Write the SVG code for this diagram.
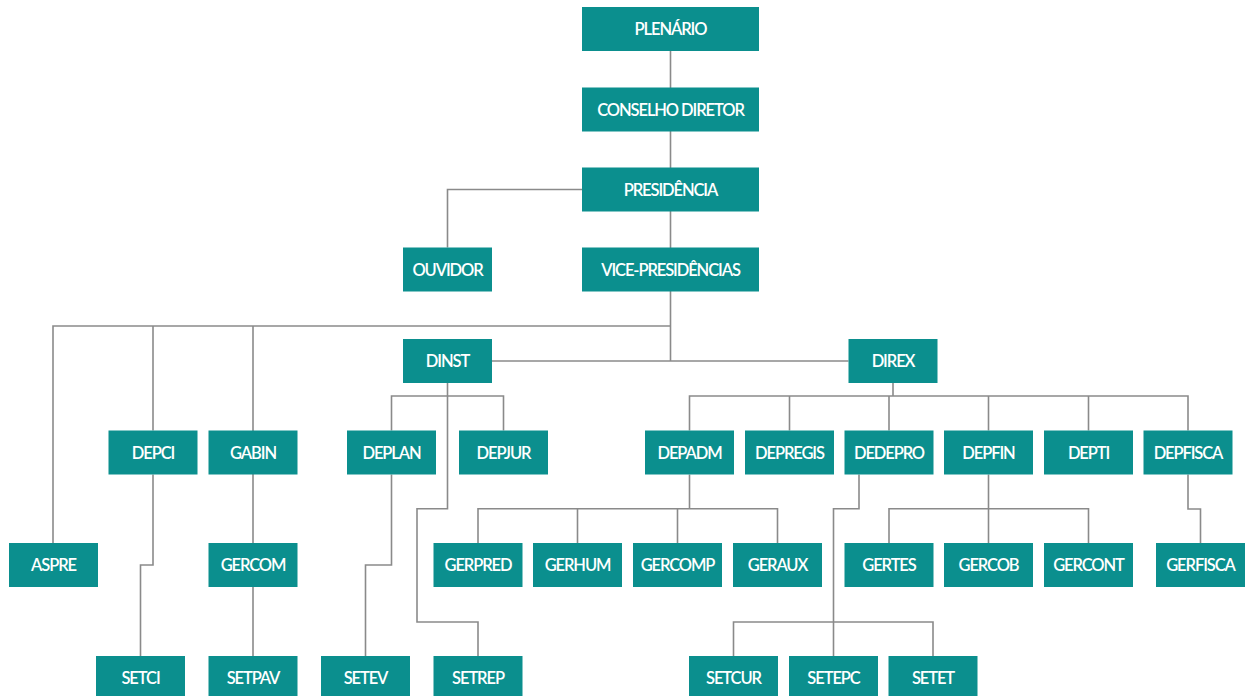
<svg xmlns="http://www.w3.org/2000/svg" width="1251" height="696" viewBox="0 0 1251 696">
<style>
.n rect{fill:#0b8f8e;}
.n text{fill:#ffffff;font-family:Lato,"Open Sans","Liberation Sans",sans-serif;font-size:16.5px;font-weight:600;letter-spacing:-1.1px;text-anchor:middle;}
.c path{fill:none;stroke:#8a8a8a;stroke-width:1.6;}
</style>
<rect width="1251" height="696" fill="#ffffff"/>
<g class="c" id="connectors">
<path d="M670.5 51 V361"/>
<path d="M582 189.5 H447.5 V247.5"/>
<path d="M53 543 V326 H670.5"/>
<path d="M153 326 V430.5"/>
<path d="M253 326 V656"/>
<path d="M492 361 H848.5"/>
<path d="M153 474.5 V565 H140.5 V656"/>
<path d="M391.5 430.5 V396 H503.5 V430.5"/>
<path d="M447.5 383 V508.7 H417 V622 H478 V656"/>
<path d="M391.5 474.5 V565 H365.5 V656"/>
<path d="M893 383 V396"/>
<path d="M689.5 430.5 V396 H1188 V430.5"/>
<path d="M789.5 396 V430.5"/>
<path d="M889 396 V430.5"/>
<path d="M988.5 396 V430.5"/>
<path d="M1088.5 396 V430.5"/>
<path d="M689.5 474.5 V508.7"/>
<path d="M478 543 V508.7 H777.5 V543"/>
<path d="M577.5 508.7 V543"/>
<path d="M677.5 508.7 V543"/>
<path d="M859 474.5 V508.7 H833.5 V656"/>
<path d="M733.5 656 V622 H933 V656"/>
<path d="M988.5 474.5 V543"/>
<path d="M889 543 V508.7 H1088.5 V543"/>
<path d="M1188 474.5 V509 H1200.5 V543"/>
</g>
<g class="n" id="plenario"><rect x="582" y="7" width="177" height="44"/><text x="670.5" y="35">PLENÁRIO</text></g>
<g class="n" id="conselho"><rect x="582" y="87.5" width="177" height="44"/><text x="670.5" y="115.7">CONSELHO DIRETOR</text></g>
<g class="n" id="presidencia"><rect x="582" y="167.5" width="177" height="44"/><text x="670.5" y="195.7">PRESIDÊNCIA</text></g>
<g class="n" id="vice"><rect x="582" y="247.5" width="177" height="44"/><text x="670.5" y="275.7">VICE-PRESIDÊNCIAS</text></g>
<g class="n" id="ouvidor"><rect x="403" y="247.5" width="89" height="44"/><text x="447.5" y="275.7">OUVIDOR</text></g>
<g class="n" id="dinst"><rect x="403" y="339" width="89" height="44"/><text x="447.5" y="367">DINST</text></g>
<g class="n" id="direx"><rect x="848.5" y="339" width="89" height="44"/><text x="893" y="367">DIREX</text></g>
<g class="n" id="depci"><rect x="108.5" y="430.5" width="89" height="44"/><text x="153" y="458.7">DEPCI</text></g>
<g class="n" id="gabin"><rect x="208.5" y="430.5" width="89" height="44"/><text x="253" y="458.7">GABIN</text></g>
<g class="n" id="deplan"><rect x="347" y="430.5" width="89" height="44"/><text x="391.5" y="458.7">DEPLAN</text></g>
<g class="n" id="depjur"><rect x="459" y="430.5" width="89" height="44"/><text x="503.5" y="458.7">DEPJUR</text></g>
<g class="n" id="depadm"><rect x="645" y="430.5" width="89" height="44"/><text x="689.5" y="458.7">DEPADM</text></g>
<g class="n" id="depregis"><rect x="745" y="430.5" width="89" height="44"/><text x="789.5" y="458.7">DEPREGIS</text></g>
<g class="n" id="dedepro"><rect x="844.5" y="430.5" width="89" height="44"/><text x="889" y="458.7">DEDEPRO</text></g>
<g class="n" id="depfin"><rect x="944" y="430.5" width="89" height="44"/><text x="988.5" y="458.7">DEPFIN</text></g>
<g class="n" id="depti"><rect x="1044" y="430.5" width="89" height="44"/><text x="1088.5" y="458.7">DEPTI</text></g>
<g class="n" id="depfisca"><rect x="1143.5" y="430.5" width="89" height="44"/><text x="1188" y="458.7">DEPFISCA</text></g>
<g class="n" id="aspre"><rect x="9" y="543" width="89" height="44"/><text x="53.5" y="571.2">ASPRE</text></g>
<g class="n" id="gercom"><rect x="208.5" y="543" width="89" height="44"/><text x="253" y="571.2">GERCOM</text></g>
<g class="n" id="gerpred"><rect x="433.5" y="543" width="89" height="44"/><text x="478" y="571.2">GERPRED</text></g>
<g class="n" id="gerhum"><rect x="533" y="543" width="89" height="44"/><text x="577.5" y="571.2">GERHUM</text></g>
<g class="n" id="gercomp"><rect x="633" y="543" width="89" height="44"/><text x="677.5" y="571.2">GERCOMP</text></g>
<g class="n" id="geraux"><rect x="733" y="543" width="89" height="44"/><text x="777.5" y="571.2">GERAUX</text></g>
<g class="n" id="gertes"><rect x="844.5" y="543" width="89" height="44"/><text x="889" y="571.2">GERTES</text></g>
<g class="n" id="gercob"><rect x="944" y="543" width="89" height="44"/><text x="988.5" y="571.2">GERCOB</text></g>
<g class="n" id="gercont"><rect x="1044" y="543" width="89" height="44"/><text x="1088.5" y="571.2">GERCONT</text></g>
<g class="n" id="gerfisca"><rect x="1156" y="543" width="89" height="44"/><text x="1200.5" y="571.2">GERFISCA</text></g>
<g class="n" id="setci"><rect x="96" y="656" width="89" height="44"/><text x="140.5" y="684">SETCI</text></g>
<g class="n" id="setpav"><rect x="208.5" y="656" width="89" height="44"/><text x="253" y="684">SETPAV</text></g>
<g class="n" id="setev"><rect x="321" y="656" width="89" height="44"/><text x="365.5" y="684">SETEV</text></g>
<g class="n" id="setrep"><rect x="433.5" y="656" width="89" height="44"/><text x="478" y="684">SETREP</text></g>
<g class="n" id="setcur"><rect x="689" y="656" width="89" height="44"/><text x="733.5" y="684">SETCUR</text></g>
<g class="n" id="setepc"><rect x="789" y="656" width="89" height="44"/><text x="833.5" y="684">SETEPC</text></g>
<g class="n" id="setet"><rect x="888.5" y="656" width="89" height="44"/><text x="933" y="684">SETET</text></g>
</svg>
